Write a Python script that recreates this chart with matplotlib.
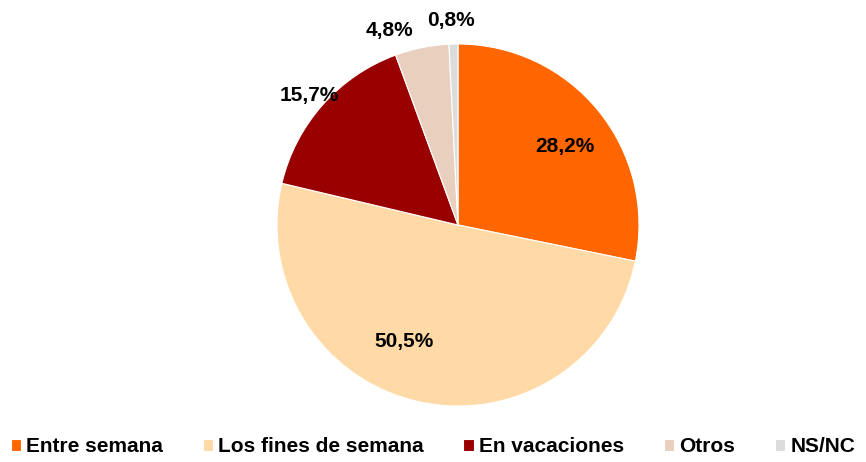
import numpy as np
import matplotlib.pyplot as plt

plt.rcParams['font.family'] = ['Liberation Sans', 'DejaVu Sans']

# data
categories = ['Entre semana', 'Los fines de semana', 'En vacaciones', 'Otros', 'NS/NC']
values = [28.2, 50.5, 15.7, 4.8, 0.8]
labels = ['28,2%', '50,5%', '15,7%', '4,8%', '0,8%']
colors = ['#FF6600', '#FFDAA6', '#990000', '#E8CFBE', '#DCDCDC']

W, H = 866, 462
fig = plt.figure(figsize=(W / 100, H / 100), dpi=100)
cx, cy, r = 458, 225, 181
ax = fig.add_axes([(cx - r) / W, (H - cy - r) / H, 2 * r / W, 2 * r / H])

wedges, _ = ax.pie(values, colors=colors, startangle=90, counterclock=False,
                   radius=1, wedgeprops=dict(edgecolor='white', linewidth=0.8))
ax.set_xlim(-1, 1)
ax.set_ylim(-1, 1)
ax.set_aspect('equal')
ax.axis('off')

# label placement (distance from centre, angle tweak in degrees)
dists = [0.73, 0.71, 1.09, 1.14, 1.13]
shifts = [-3.0, -12.6, 0.5, 8.0, 0.6]
for w, lab, d, s in zip(wedges, labels, dists, shifts):
    ang = np.deg2rad((w.theta1 + w.theta2) / 2 + s)
    ax.text(d * np.cos(ang), d * np.sin(ang), lab, ha='center', va='center',
            fontsize=15, fontweight='bold', clip_on=False)

fig.legend(wedges, categories, loc='lower center', bbox_to_anchor=(0.5, -0.028),
           ncol=5, frameon=False, handlelength=0.5, handleheight=0.55,
           handletextpad=0.25, columnspacing=1.9,
           prop=dict(size=15, weight='bold'))

fig.savefig('out.png', dpi=100)
